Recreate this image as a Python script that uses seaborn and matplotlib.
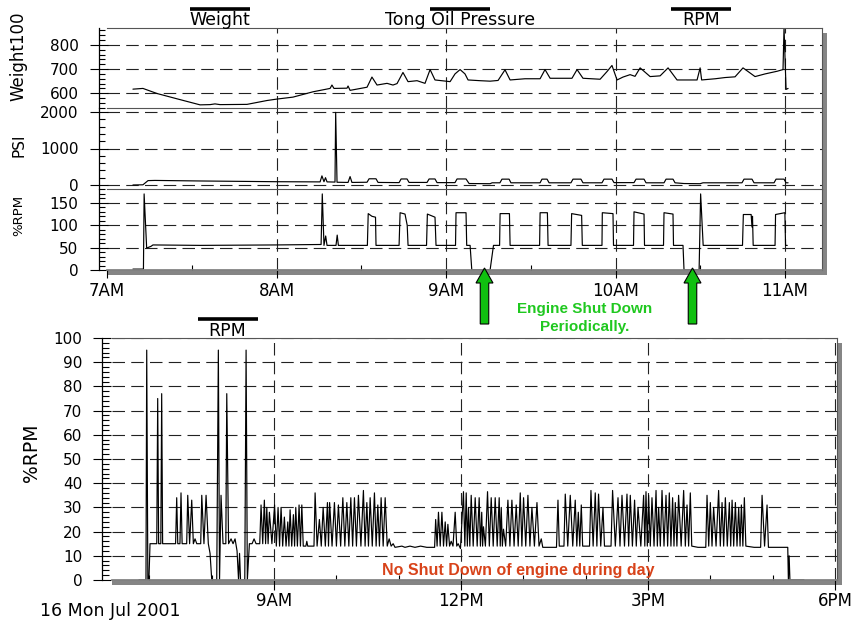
import pandas as pd
import matplotlib
matplotlib.use("Agg")
import matplotlib.pyplot as plt
import matplotlib.ticker as mticker
from matplotlib.patches import Rectangle, FancyArrow
from matplotlib.lines import Line2D
import seaborn as sns

# ---- data (hour of day, value) ----
weight_trace = [
    (7.153, 617), (7.212, 620), (7.295, 599), (7.413, 577), (7.549, 552), (7.608, 553),
    (7.637, 556), (7.667, 553), (7.826, 554), (7.944, 570), (8.003, 576), (8.097, 584),
    (8.215, 606), (8.316, 620), (8.327, 634), (8.339, 620), (8.416, 621), (8.422, 630),
    (8.434, 612), (8.534, 625), (8.563, 667), (8.593, 634), (8.652, 641), (8.687, 634),
    (8.711, 640), (8.746, 686), (8.776, 648), (8.829, 652), (8.876, 641), (8.906, 698),
    (8.935, 655), (9.000, 650), (9.024, 648), (9.053, 680), (9.083, 698), (9.112, 680),
    (9.130, 655), (9.201, 652), (9.260, 650), (9.307, 653), (9.348, 697), (9.378, 655),
    (9.466, 660), (9.555, 660), (9.584, 698), (9.614, 662), (9.743, 662), (9.773, 698),
    (9.808, 662), (9.909, 658), (9.950, 690), (9.979, 715), (10.009, 655), (10.044, 667),
    (10.086, 677), (10.115, 670), (10.145, 705), (10.204, 669), (10.263, 672), (10.310, 705),
    (10.363, 655), (10.481, 655), (10.499, 705), (10.508, 655), (10.588, 660), (10.646, 665),
    (10.705, 668), (10.752, 705), (10.823, 669), (10.882, 680), (10.953, 691), (10.988, 698),
    (10.994, 872), (11.006, 616), (11.018, 620),
]

psi_trace = [
    (7.153, 0), (7.212, 5), (7.242, 120), (7.283, 125), (7.549, 110), (7.997, 90),
    (8.257, 85), (8.268, 250), (8.280, 90), (8.289, 200), (8.298, 85), (8.345, 80),
    (8.349, 1990), (8.357, 75), (8.422, 70), (8.434, 230), (8.445, 70), (8.534, 75),
    (8.546, 170), (8.587, 170), (8.599, 70), (8.723, 65), (8.735, 165), (8.770, 165),
    (8.782, 70), (8.888, 70), (8.900, 165), (8.935, 165), (8.947, 65), (9.053, 65),
    (9.065, 165), (9.118, 165), (9.136, 40), (9.260, 35), (9.272, 60), (9.318, 60),
    (9.330, 160), (9.372, 160), (9.383, 60), (9.555, 60), (9.566, 160), (9.596, 160),
    (9.608, 60), (9.737, 60), (9.749, 160), (9.796, 160), (9.808, 60), (9.920, 60),
    (9.932, 160), (9.979, 160), (9.991, 65), (10.109, 65), (10.121, 160), (10.168, 160),
    (10.180, 60), (10.286, 60), (10.298, 160), (10.339, 160), (10.351, 60), (10.404, 40),
    (10.499, 35), (10.516, 60), (10.746, 60), (10.758, 160), (10.805, 160), (10.817, 60),
    (10.935, 60), (10.947, 160), (10.994, 160), (11.006, 60), (11.018, 60),
]

rpm_trace = [
    (7.153, 2), (7.215, 2), (7.219, 170), (7.234, 49), (7.260, 53), (7.271, 56),
    (7.549, 55), (7.997, 56), (8.263, 57), (8.270, 170), (8.280, 55), (8.290, 76),
    (8.298, 55), (8.351, 55), (8.358, 78), (8.365, 55), (8.536, 55), (8.541, 126),
    (8.563, 120), (8.584, 118), (8.587, 55), (8.723, 55), (8.729, 128), (8.758, 125),
    (8.771, 100), (8.776, 55), (8.885, 55), (8.890, 125), (8.935, 118), (8.941, 55),
    (9.056, 55), (9.059, 128), (9.118, 128), (9.122, 55), (9.142, 55), (9.152, 0),
    (9.260, 0), (9.280, 55), (9.316, 55), (9.319, 126), (9.374, 126), (9.378, 55),
    (9.552, 55), (9.555, 128), (9.598, 128), (9.602, 55), (9.737, 55), (9.741, 126),
    (9.800, 122), (9.804, 55), (9.920, 55), (9.922, 128), (9.985, 126), (9.988, 55),
    (10.106, 55), (10.109, 130), (10.168, 125), (10.171, 55), (10.283, 55), (10.286, 128),
    (10.339, 125), (10.342, 55), (10.398, 55), (10.404, 0), (10.493, 0), (10.502, 170),
    (10.517, 55), (10.749, 55), (10.754, 124), (10.800, 124), (10.805, 96), (10.808, 120),
    (10.812, 55), (10.941, 55), (10.944, 124), (10.999, 128), (11.003, 55), (11.013, 55),
]

day_trace = [
    # morning start-up, 6:50 - 9:00
    (6.833, 0), (6.945, 0), (6.957, 95), (6.975, 0), (6.992, 0), (7.010, 15),
    (7.118, 15), (7.133, 75), (7.148, 15), (7.183, 15), (7.197, 77), (7.212, 15),
    (7.420, 15), (7.438, 34), (7.455, 15), (7.490, 15), (7.507, 36), (7.525, 15),
    (7.598, 15), (7.615, 35), (7.645, 15), (7.679, 33), (7.705, 15), (7.732, 17),
    (7.760, 15), (7.823, 15), (7.840, 35), (7.875, 15), (7.909, 35), (7.945, 15),
    (7.973, 11), (8.000, 0), (8.080, 0), (8.106, 95), (8.125, 0), (8.149, 35),
    (8.181, 15), (8.226, 15), (8.241, 77), (8.270, 15), (8.310, 17), (8.342, 15),
    (8.374, 17), (8.406, 12), (8.430, 0), (8.446, 11), (8.462, 0), (8.530, 0),
    (8.551, 95), (8.571, 0), (8.604, 15), (8.647, 15), (8.679, 17), (8.711, 15),
    (8.770, 15), (8.791, 31), (8.818, 15), (8.844, 33), (8.864, 15), (8.883, 30),
    (8.904, 15), (8.925, 28), (8.965, 15),
    # 9:00 - 11:00
    (9.008, 31), (9.036, 14), (9.064, 30), (9.088, 14), (9.112, 30), (9.138, 14),
    (9.165, 26), (9.192, 14), (9.220, 24), (9.238, 14), (9.257, 29), (9.283, 14),
    (9.310, 27), (9.329, 14), (9.348, 30), (9.374, 14), (9.401, 31), (9.423, 14),
    (9.445, 31), (9.468, 14), (9.510, 14), (9.525, 16), (9.540, 14), (9.640, 14),
    (9.658, 36), (9.690, 14), (9.727, 25), (9.757, 14), (9.787, 30), (9.822, 14),
    (9.856, 32), (9.873, 14), (9.891, 32), (9.930, 14), (9.968, 32), (10.000, 14),
    (10.032, 31), (10.068, 14), (10.103, 34), (10.135, 14), (10.167, 32), (10.199, 14),
    (10.231, 34), (10.260, 14), (10.289, 34), (10.321, 14), (10.353, 35), (10.393, 14),
    (10.433, 37), (10.460, 14), (10.488, 32), (10.514, 14), (10.541, 34), (10.575, 14),
    (10.610, 36), (10.637, 14), (10.664, 31), (10.690, 14), (10.717, 34), (10.750, 14),
    (10.782, 34), (10.815, 14), (10.846, 17), (10.878, 14), (10.910, 15), (10.940, 13.5),
    # idle, 11:00 - 11:35
    (11.050, 14), (11.100, 13.5), (11.180, 14), (11.260, 13.5), (11.350, 14), (11.450, 13.5),
    (11.575, 13.5),
    # 11:35 - 13:20
    (11.592, 25), (11.615, 14), (11.637, 28), (11.665, 14), (11.692, 28), (11.718, 14),
    (11.745, 24), (11.767, 14), (11.788, 23), (11.815, 14), (11.841, 16), (11.870, 14),
    (11.905, 28), (11.930, 14), (11.953, 15), (11.990, 13),
    (12.038, 36.5), (12.060, 14), (12.082, 36), (12.100, 14), (12.119, 30), (12.140, 14),
    (12.162, 35), (12.194, 14), (12.226, 34), (12.258, 14), (12.290, 34), (12.310, 14),
    (12.331, 28), (12.345, 14), (12.359, 22), (12.390, 14), (12.424, 36.5), (12.453, 14),
    (12.483, 34), (12.515, 14), (12.547, 34), (12.579, 14), (12.611, 34), (12.628, 14),
    (12.644, 30), (12.662, 14), (12.680, 21), (12.715, 14), (12.751, 33), (12.783, 14),
    (12.815, 33), (12.850, 14), (12.884, 31), (12.916, 14), (12.949, 36), (12.975, 14),
    (13.002, 34), (13.037, 14), (13.072, 35), (13.104, 14), (13.136, 30), (13.176, 14),
    (13.217, 32), (13.250, 14), (13.286, 17), (13.310, 13.5), (13.400, 13.5), (13.530, 13.5),
    # 13:30 - 15:45
    (13.554, 33), (13.575, 14), (13.650, 14), (13.671, 35.5), (13.711, 14), (13.751, 35),
    (13.791, 14), (13.831, 33), (13.856, 14), (13.880, 28), (13.904, 14), (13.928, 31),
    (13.950, 14), (14.060, 14), (14.083, 37), (14.118, 14), (14.152, 36), (14.178, 14),
    (14.205, 35.5), (14.240, 14), (14.276, 30), (14.300, 14), (14.405, 14), (14.430, 37),
    (14.474, 14), (14.517, 34), (14.549, 14), (14.581, 35), (14.621, 14), (14.661, 35.5),
    (14.688, 14), (14.714, 35), (14.748, 14), (14.783, 33), (14.810, 14), (14.838, 30),
    (14.883, 14), (14.928, 35), (14.947, 14), (14.966, 36.5), (14.987, 14), (15.008, 35),
    (15.035, 14), (15.062, 34), (15.095, 14), (15.127, 37), (15.148, 14), (15.169, 30),
    (15.196, 14), (15.223, 37), (15.255, 14), (15.287, 35), (15.313, 14), (15.340, 36),
    (15.366, 14), (15.393, 34), (15.415, 14), (15.436, 32), (15.462, 14), (15.489, 35),
    (15.530, 14), (15.570, 37), (15.597, 14), (15.624, 31), (15.650, 14), (15.677, 36),
    (15.700, 14), (15.800, 13.5), (15.925, 13.5),
    # 15:55 - 17:30
    (15.945, 35), (15.972, 14), (15.998, 32), (16.025, 14), (16.051, 30), (16.090, 14),
    (16.131, 37), (16.158, 14), (16.186, 32), (16.212, 14), (16.239, 34), (16.270, 14),
    (16.303, 32), (16.325, 14), (16.347, 33), (16.373, 14), (16.400, 32), (16.426, 14),
    (16.453, 30), (16.475, 14), (16.496, 31), (16.520, 14), (16.544, 34), (16.568, 14),
    (16.700, 13.5), (16.805, 13.5), (16.828, 35), (16.868, 14), (16.908, 31), (16.930, 13.5),
    (17.100, 13.5), (17.240, 13.5), (17.250, 0), (17.262, 10), (17.275, 0), (17.500, 0),
]

top_hours = [7, 8, 9, 10, 11]
top_hour_labels = ["7AM", "8AM", "9AM", "10AM", "11AM"]
day_hours = [9, 12, 15, 18]
day_hour_labels = ["9AM", "12PM", "3PM", "6PM"]
weight_ticks = [600, 700, 800]
psi_ticks = [0, 1000, 2000]
rpm_ticks = [0, 50, 100, 150]
day_ticks = list(range(0, 101, 10))

# ---- style ----
sns.set_theme(style="white")
plt.rcParams["font.family"] = ["DejaVu Sans"]
plt.rcParams["lines.scale_dashes"] = False
plt.rcParams["text.color"] = "black"

W, H = 858, 622
fig = plt.figure(figsize=(W / 100, H / 100), dpi=100)


def fx(px):
    return px / W


def fy(py):
    return 1 - py / H


def box(x0, y0, x1, y1):
    return [fx(x0), fy(y1), (x1 - x0) / W, (y1 - y0) / H]


ax_w = fig.add_axes(box(107, 28, 822, 108))
ax_p = fig.add_axes(box(107, 108, 822, 189), sharex=ax_w)
ax_r = fig.add_axes(box(107, 189, 822, 270), sharex=ax_w)
ax_d = fig.add_axes(box(112, 338, 837, 580))

# drop shadows behind both charts
for x0, y0, x1, y1 in [(107, 33, 827, 275), (112, 343, 842, 585)]:
    fig.add_artist(Rectangle((fx(x0), fy(y1)), (x1 - x0) / W, (y1 - y0) / H,
                             transform=fig.transFigure, fc="#858585", ec="none", zorder=-1))

dash = (0, (9, 4.5))
frame_col = "#555555"


def draw_trace(ax, pairs):
    df = pd.DataFrame(pairs, columns=["hour", "value"])
    sns.lineplot(data=df, x="hour", y="value", ax=ax, color="black", linewidth=0.85,
                 estimator=None, sort=False)
    ax.set_xlabel("")
    ax.set_ylabel("")


def style_axes(ax, ticks, minor, ylim, offset, rung, vlines, bottom_visible):
    ax.set_ylim(*ylim)
    ax.set_yticks(ticks)
    ax.yaxis.set_minor_locator(mticker.MultipleLocator(minor))
    ax.grid(True, axis="y", which="major", color="#222222", lw=0.8, ls=dash)
    for h in vlines:
        ax.axvline(h, color="#222222", lw=0.8, ls=dash, zorder=0.5)
    ax.spines["left"].set_position(("outward", offset))
    ax.spines["left"].set_color("black")
    ax.spines["left"].set_linewidth(0.9)
    for s in ("top", "right"):
        ax.spines[s].set_color(frame_col)
        ax.spines[s].set_linewidth(0.8)
    ax.spines["bottom"].set_visible(bottom_visible)
    ax.spines["bottom"].set_color("#808080")
    ax.tick_params(axis="y", which="major", direction="inout", length=13, width=0.8,
                   pad=8, labelsize=11, colors="black", left=True)
    ax.tick_params(axis="y", which="minor", direction="in", length=rung, width=0.8,
                   colors="black", left=True)


draw_trace(ax_w, weight_trace)
draw_trace(ax_p, psi_trace)
draw_trace(ax_r, rpm_trace)
draw_trace(ax_d, day_trace)

style_axes(ax_w, weight_ticks, 20, (539, 870), 6, 4.3, top_hours[1:], False)
style_axes(ax_p, psi_ticks, 200, (-110, 2110), 6, 4.3, top_hours[1:], False)
style_axes(ax_r, rpm_ticks, 10, (0, 181), 6, 4.3, top_hours[1:], True)
style_axes(ax_d, day_ticks, 2, (0, 100), 7, 5, day_hours, True)

ax_r.set_xlim(7, 11.218)
ax_r.set_xticks(top_hours, labels=top_hour_labels)
ax_r.xaxis.set_minor_locator(mticker.MultipleLocator(0.5))
for ax in (ax_w, ax_p):
    ax.tick_params(axis="x", which="both", bottom=False, labelbottom=False)
ax_r.tick_params(axis="x", which="major", direction="out", length=5.5, width=0.8,
                 pad=3, labelsize=12, colors="black", bottom=True)
ax_r.tick_params(axis="x", which="minor", direction="in", length=3.5, width=0.8,
                 colors="black", bottom=True)

ax_d.set_xlim(6.40, 18.03)
ax_d.set_xticks(day_hours, labels=day_hour_labels)
ax_d.xaxis.set_minor_locator(mticker.MultipleLocator(1))
ax_d.tick_params(axis="x", which="major", direction="out", length=7, width=0.8,
                 pad=2, labelsize=12, colors="black", bottom=True)
ax_d.tick_params(axis="x", which="minor", direction="in", length=3.5, width=0.8,
                 colors="black", bottom=True)

# axis titles
fig.text(fx(18.5), fy(56.5), "Weight100", rotation=90, ha="center", va="center", fontsize=12, color="black")
fig.text(fx(19), fy(145), "PSI", rotation=90, ha="center", va="center", fontsize=11, color="black")
fig.text(fx(18.5), fy(215), "%RPM", rotation=90, ha="center", va="center", fontsize=9.5, color="black")
fig.text(fx(32), fy(453), "%RPM", rotation=90, ha="center", va="center", fontsize=13.5, color="black")

# series keys (bar above name)
for name, cx, bar_y, text_y in [("Weight", 220, 8.5, 25), ("Tong Oil Pressure", 460, 8.5, 25),
                                ("RPM", 701, 8.5, 25), ("RPM", 227.5, 319, 336)]:
    fig.add_artist(Line2D([fx(cx - 30), fx(cx + 30)], [fy(bar_y), fy(bar_y)],
                          transform=fig.transFigure, color="black", lw=2.6,
                          solid_capstyle="butt"))
    fig.text(fx(cx), fy(text_y), name, ha="center", va="baseline", fontsize=12.5, color="black")

fig.text(fx(40), fy(616), "16 Mon Jul 2001", ha="left", va="baseline", fontsize=12.5, color="black")

# annotations
green = "#1fc81f"
for cx in (484.5, 692.5):
    fig.add_artist(FancyArrow(fx(cx), fy(324), 0, (324 - 268) / H,
                              width=8.5 / W, head_width=17 / W, head_length=15 / H,
                              length_includes_head=True, transform=fig.transFigure,
                              fc="#10c010", ec="black", lw=0.8, zorder=5))
fig.text(fx(585), fy(313), "Engine Shut Down", ha="center", va="baseline",
         fontsize=11, fontweight="bold", color=green, family=["Liberation Sans", "DejaVu Sans"])
fig.text(fx(585), fy(331.5), "Periodically.", ha="center", va="baseline",
         fontsize=11, fontweight="bold", color=green, family=["Liberation Sans", "DejaVu Sans"])
fig.text(fx(518), fy(575), "No Shut Down of engine during day", ha="center", va="baseline",
         fontsize=11.5, fontweight="bold", color="#d8431a",
         family=["Liberation Sans", "DejaVu Sans"], zorder=6)

fig.savefig("out.png", dpi=100)
